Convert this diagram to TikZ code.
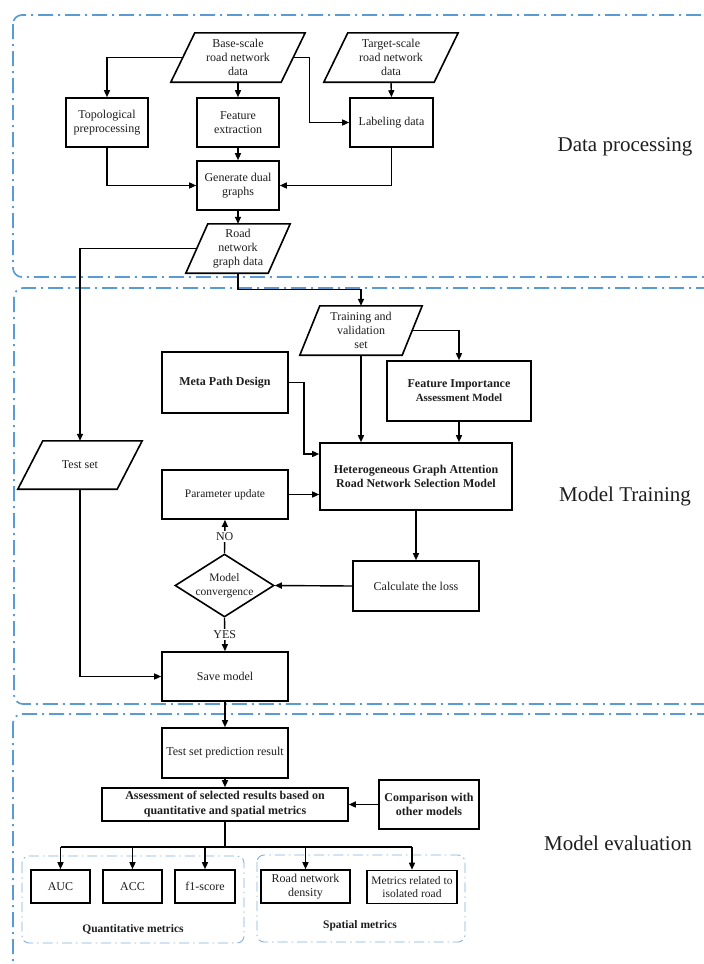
\documentclass[tikz,border=0pt]{standalone}
\usepackage{fontspec}
\setmainfont{Liberation Serif}
\usetikzlibrary{arrows.meta,calc,shapes.geometric}
\newcommand\paraframe[2]{\draw[line width=1.6pt, line join=miter] ($(#1.south west)+(-#2,0)$) -- ($(#1.north west)+(#2,0)$) -- ($(#1.north east)+(#2,0)$) -- ($(#1.south east)+(-#2,0)$) -- cycle;}
\definecolor{frameblue}{RGB}{91,155,213}
\definecolor{innerblue}{RGB}{130,178,222}
\definecolor{txt}{RGB}{30,30,30}
\begin{document}
\begin{tikzpicture}[x=1pt,y=-1pt,
  box/.style={draw=black, line width=1.6pt, text=txt, align=center, inner sep=1pt, font=\fontsize{12}{14}\selectfont},
  bbox/.style={box, font=\bfseries\fontsize{12}{14}\selectfont},
  para/.style={align=center, text=txt, inner sep=1pt, font=\fontsize{12}{14}\selectfont},
  arr/.style={line width=1.4pt, -{Triangle[length=7pt,width=6pt]}},
  conn/.style={line width=1.4pt},
  frame/.style={draw=frameblue, line width=1.7pt, rounded corners=9pt, dash pattern=on 15pt off 5pt on 2pt off 5pt},
  iframe/.style={draw=innerblue, line width=0.9pt, rounded corners=7pt, dash pattern=on 10pt off 4pt on 1.5pt off 4pt},
  sect/.style={text=txt, font=\fontsize{21}{24}\selectfont}
]
\useasboundingbox (0,0) rectangle (704,964);
\clip (0,0) rectangle (704,964);
\fill[white] (0,0) rectangle (704,964);

% frames
\draw[frame] (13,15) rectangle (740,277);
\draw[frame] (14,288) rectangle (740,704);
\draw[frame] (13,714) rectangle (740,995);
\draw[iframe] (22,856) rectangle (244,943);
\draw[iframe] (257,855) rectangle (465,942);

% section labels
\node[sect] (secA) at (625,147) {Data processing};
\node[sect] (secB) at (625,496) {Model Training};
\node[sect] (secC) at (618,843) {Model evaluation};

% data processing
\node[para, minimum width=110pt, minimum height=49pt] (base) at (238,57.5) {Base-scale\\road network\\data};
\paraframe{base}{12}
\node[para, minimum width=110pt, minimum height=49pt] (target) at (391,57.5) {Target-scale\\road network\\data};
\paraframe{target}{12}
\node[box, minimum width=82pt, minimum height=49pt] (topo) at (107,122.5) {Topological\\preprocessing};
\node[box, minimum width=82pt, minimum height=49pt] (feat) at (238,122.5) {Feature\\extraction};
\node[box, minimum width=83pt, minimum height=49pt] (label) at (391.5,122.5) {Labeling data};
\node[box, minimum width=82pt, minimum height=49pt] (gen) at (238,185.5) {Generate dual\\graphs};
\node[para, minimum width=82pt, minimum height=49pt] (rngd) at (238,248.5) {Road\\network\\graph data};
\paraframe{rngd}{11}

\draw[arr] (base.west) -| (topo.north);
\draw[arr] (base.east) -- ++(16,0) |- (label.west);
\draw[arr] (base.south) -- (feat.north);
\draw[arr] (target.south) -- (label.north);
\draw[arr] (topo.south) |- (gen.west);
\draw[arr] (label.south) |- (gen.east);
\draw[arr] (feat.south) -- (gen.north);
\draw[arr] (gen.south) -- (rngd.north);

% model training
\node[para, minimum width=102pt, minimum height=49pt] (train) at (361,330.5) {Training and\\validation\\set};
\paraframe{train}{10}
\node[bbox, minimum width=126pt, minimum height=61pt] (meta) at (225,382.5) {Meta Path Design};
\node[bbox, minimum width=144pt, minimum height=60pt] (fim) at (459,391) {Feature Importance\\{\fontsize{11}{13}\selectfont Assessment Model}};
\node[bbox, minimum width=192pt, minimum height=67pt] (hetero) at (416,476.5) {Heterogeneous Graph Attention\\Road Network Selection Model};
\node[para, minimum width=99pt, minimum height=48pt] (test) at (80,465) {Test set};
\paraframe{test}{12.5}
\node[box, minimum width=126pt, minimum height=49pt, font=\fontsize{11.5}{13}\selectfont] (param) at (225,494.5) {Parameter update};
\node[box, minimum width=126pt, minimum height=50pt] (calc) at (416,586) {Calculate the loss};
\node[diamond, draw, line width=1.6pt, minimum width=99pt, minimum height=63pt, inner sep=0pt] (conv) at (224.5,585.5) {};
\node[para, font=\fontsize{11.5}{13.5}\selectfont] (convtext) at (conv) {Model\\convergence};
\node[box, minimum width=126pt, minimum height=49pt] (save) at (225,676.5) {Save model};

\draw[arr] (rngd.west) -| (test.north);
\draw[arr] (rngd.south) -- ++(0,16) -| (train.north);
\draw[arr] (train.east) -| (fim.north);
\draw[arr] (train.south) -- (train.south |- hetero.north);
\draw[arr] (fim.south) -- (fim.south |- hetero.north);
\draw[arr] (meta.east) -- ++(15,0) |- ($(hetero.west)+(0,-22.5)$);
\draw[arr] (param.east) -- (param.east -| hetero.west);
\draw[arr] (hetero.south) -- (calc.north);
\draw[arr] (calc.west) -- (conv.east);
\draw[arr] (conv.north) -- node[fill=white, text=txt, inner sep=1pt, font=\fontsize{12}{14}\selectfont] (no) {NO} (param.south);
\draw[arr] (conv.south) -- node[fill=white, text=txt, inner sep=1pt, font=\fontsize{12}{14}\selectfont] (yes) {YES} (save.north);
\draw[arr] (test.south) |- (save.west);

% model evaluation
\node[box, minimum width=126pt, minimum height=50pt] (pred) at (225,753) {Test set prediction result};
\node[bbox, minimum width=246pt, minimum height=33pt, font=\bfseries\fontsize{12}{15}\selectfont] (assess) at (225,804.5) {Assessment of selected results based on\\quantitative and spatial metrics};
\node[bbox, minimum width=100pt, minimum height=49pt] (comp) at (429,804.5) {Comparison with\\other models};
\node[box, minimum width=59pt, minimum height=33pt] (auc) at (60.5,886.5) {AUC};
\node[box, minimum width=59pt, minimum height=33pt] (acc) at (132.5,886.5) {ACC};
\node[box, minimum width=60pt, minimum height=33pt] (f1) at (205,886.5) {f1-score};
\node[box, minimum width=89pt, minimum height=33pt] (rnd) at (305.5,886.5) {Road network\\density};
\node[box, minimum width=90pt, minimum height=33pt, font=\fontsize{11.5}{13.5}\selectfont] (mr) at (412,887) {Metrics related to\\isolated road};
\node[text=txt, font=\bfseries\fontsize{11.5}{13}\selectfont] (qlab) at (133,929) {Quantitative metrics};
\node[text=txt, font=\bfseries\fontsize{11.5}{13}\selectfont] (slab) at (360,925.5) {Spatial metrics};

\draw[arr] (save.south) -- (pred.north);
\draw[arr] (pred.south) -- (assess.north);
\draw[arr] (comp.west) -- (assess.east);
\draw[conn] (assess.south) -- ++(0,25) coordinate (hb);
\draw[conn] (auc.north |- hb) -- (mr.north |- hb);
\draw[arr] (auc.north |- hb) -- (auc.north);
\draw[arr] (acc.north |- hb) -- (acc.north);
\draw[arr] (f1.north |- hb) -- (f1.north);
\draw[arr] (rnd.north |- hb) -- (rnd.north);
\draw[arr] (mr.north |- hb) -- (mr.north);
\end{tikzpicture}
\end{document}
